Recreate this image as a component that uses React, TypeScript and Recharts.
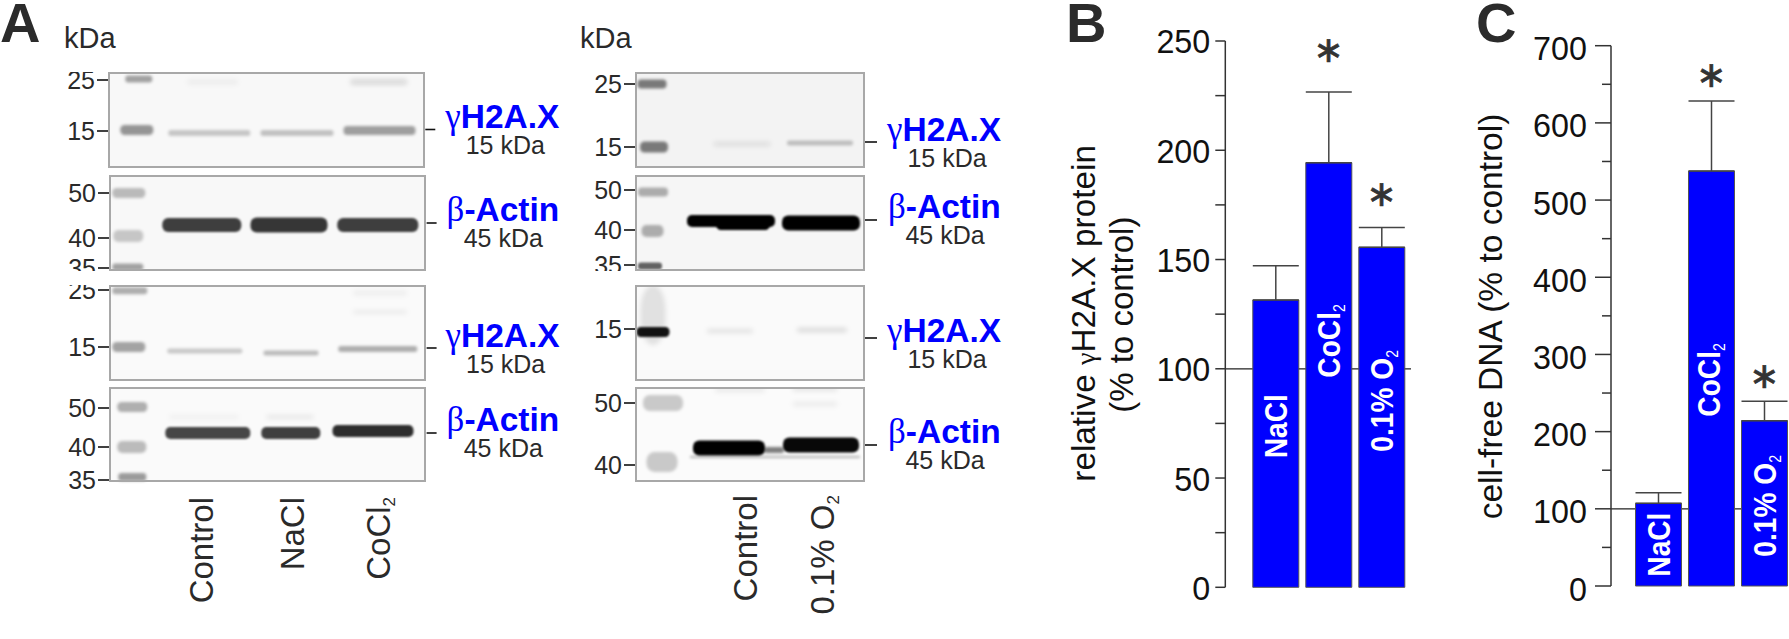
import {
  Bar,
  CartesianGrid,
  ComposedChart,
  ErrorBar,
  LabelList,
  Line,
  Scatter,
  ScatterChart,
  XAxis,
  YAxis,
} from "recharts";

const SANS = "'Liberation Sans', Arial, sans-serif";
const SERIF = "'Liberation Serif', serif";
const BLUE = "#0000ff";
const INK = "#2a2a2a";

// bar panels
const groups = ["NaCl", "CoCl2", "0.1% O2"];
const proteinMean = [131.5, 194.3, 155.6];
const proteinErr = [15.7, 32.4, 9];
const proteinStar = [null, 245.6, 179.5];
const proteinTicks = [0, 25, 50, 75, 100, 125, 150, 175, 200, 225, 250];
const dnaMean = [107.1, 537.6, 214.2];
const dnaErr = [13.8, 90.7, 25.1];
const dnaStar = [null, 660.7, 271.1];
const dnaTicks = [0, 50, 100, 150, 200, 250, 300, 350, 400, 450, 500, 550, 600, 650, 700];

// blot bands: [lane x, migration y, width, thickness, darkness]
type Band = [number, number, number, number, number];
const leftGammaTop: Band[] = [
  [30.8, 7, 27, 7, 0.35],
  [28.8, 58, 33, 10, 0.4],
  [104.8, 10, 51, 5, 0.05],
  [270.8, 10, 57, 6, 0.12],
  [101.3, 61, 82, 6, 0.2],
  [189, 61, 73, 6, 0.22],
  [271.5, 58.5, 72, 9, 0.36],
];
const leftActinTop: Band[] = [
  [19.8, 18, 33, 10, 0.25],
  [19.3, 61, 30, 12, 0.2],
  [18.8, 92, 31, 7, 0.35],
  [92.8, 50, 79, 14, 0.75],
  [180, 50, 77, 15, 0.78],
  [268.8, 50, 81, 14, 0.75],
];
const leftGammaLow: Band[] = [
  [20.8, 5.7, 35, 7, 0.3],
  [19.8, 62, 33, 10, 0.35],
  [271, 8, 54, 5, 0.05],
  [271, 27, 54, 3, 0.08],
  [95.8, 66, 75, 5, 0.2],
  [182, 68, 55, 5, 0.25],
  [268.8, 64, 79, 6, 0.3],
];
const leftActinLow: Band[] = [
  [23.3, 20, 30, 10, 0.3],
  [22.8, 60, 29, 12, 0.25],
  [23.3, 90, 28, 8, 0.38],
  [95, 30, 70, 3, 0.06],
  [181, 30, 47, 3, 0.1],
  [98.8, 46, 85, 12, 0.72],
  [181.8, 46, 59, 12, 0.75],
  [264, 44, 81, 12, 0.82],
];
const rightGammaTop: Band[] = [
  [17, 12, 29, 9, 0.5],
  [19, 75, 28, 11, 0.5],
  [107, 72, 57, 4, 0.1],
  [185, 71, 66, 5, 0.22],
];
const rightActinTop: Band[] = [
  [18, 17, 30, 9, 0.3],
  [17.5, 56, 22, 12, 0.3],
  [15, 91, 24, 7, 0.6],
  [96, 46, 88, 12, 1],
  [108, 50, 53, 10, 1],
  [186, 48, 78, 15, 1],
];
const rightGammaLow: Band[] = [
  [18, 30, 25, 60, 0.1],
  [18, 47, 33, 10, 0.92],
  [95, 46, 46, 4, 0.1],
  [187, 45, 50, 4, 0.14],
];
const rightActinLow: Band[] = [
  [28, 16, 40, 16, 0.2],
  [27, 75, 31, 20, 0.2],
  [105, 3, 50, 4, 0.08],
  [180, 2, 45, 4, 0.1],
  [180, 17, 45, 5, 0.06],
  [140, 70, 170, 2, 0.3],
  [139, 63, 20, 6, 0.5],
  [94, 61, 72, 15, 1],
  [186, 58, 76, 15, 0.97],
];

const leftLanes = [92.3, 183.3, 268.8];
const leftLaneNames = ["Control", "NaCl", "CoCl2"];
const rightLanes = [110, 187];
const rightLaneNames = ["Control", "0.1% O2"];

function withSub(name: string, size: number, dy: number) {
  if (!name.endsWith("2")) return name;
  return (
    <>
      {name.slice(0, -1)}
      <tspan fontSize={size} dy={dy} fontWeight={400}>
        2
      </tspan>
    </>
  );
}

function BandShape({ cx, cy, payload }: any) {
  const { w, h, d } = payload;
  const filter = d >= 0.6 ? "url(#blot-sharp)" : d >= 0.15 ? "url(#blot-soft)" : "url(#blot-faint)";
  return (
    <rect
      x={cx - w / 2}
      y={cy - h / 2}
      width={w}
      height={h}
      rx={h / 2.4}
      fill="#000"
      fillOpacity={d}
      filter={filter}
    />
  );
}

interface BlotProps {
  left: number;
  top: number;
  width: number;
  height?: number;
  bg: string;
  bands: Band[];
  ticks: number[];
  kda: string[];
  marker: number;
  protein: "gamma" | "actin";
  markerLen: number;
  nameX: number;
  massX: number;
  nameDy: number;
  lanes?: number[];
  laneNames?: string[];
  laneTop?: number;
}

function Blot(p: BlotProps) {
  const h = p.height ?? 96;
  const axisLeft = 48;
  const axisRight = 160;
  const laneH = p.lanes ? 140 : 0;
  const data = p.bands.map(([x, y, w, th, d]) => ({ x, y, w, h: th, d }));
  const mass = p.protein === "gamma" ? "15 kDa" : "45 kDa";

  const rightTick = ({ x, y }: any) => (
    <g>
      <line x1={x} x2={x + p.markerLen} y1={y} y2={y} stroke="#111" strokeWidth={1.6} />
      <text x={x + p.nameX} y={y + p.nameDy} fontSize={33.5} fontWeight={700} fill={BLUE} fontFamily={SANS}>
        <tspan fontFamily={SERIF} fontWeight={400} fontSize={35}>
          {p.protein === "gamma" ? "γ" : "β"}
        </tspan>
        {p.protein === "gamma" ? "H2A.X" : "-Actin"}
      </text>
      <text x={x + p.massX} y={y + p.nameDy + 26} fontSize={25} fill={INK} textAnchor="middle" fontFamily={SANS}>
        {mass}
      </text>
    </g>
  );

  const laneTick = ({ x, y, index }: any) => (
    <text
      transform={`translate(${x + 12}, ${y + (p.laneTop ?? 15)}) rotate(-90)`}
      fontSize={33}
      fill={INK}
      textAnchor="end"
      fontFamily={SANS}
    >
      {withSub((p.laneNames as string[])[index], 17, 5)}
    </text>
  );

  return (
    <div style={{ position: "absolute", left: p.left - axisLeft, top: p.top, width: axisLeft + p.width + axisRight, height: h + laneH }}>
      <div style={{ position: "absolute", left: axisLeft, top: 0, width: p.width, height: h, background: p.bg }} />
      <div style={{ position: "absolute", left: 0, top: 0 }}>
        <ScatterChart
          width={axisLeft + p.width + axisRight}
          height={h + laneH}
          margin={{ top: 0, right: 0, bottom: 0, left: 0 }}
        >
          <XAxis
            type="number"
            dataKey="x"
            domain={[0, p.width]}
            hide={!p.lanes}
            ticks={p.lanes}
            interval={0}
            height={laneH}
            axisLine={false}
            tickLine={false}
            tickSize={0}
            tickMargin={0}
            tick={laneTick}
          />
          <YAxis
            yAxisId="left"
            type="number"
            dataKey="y"
            domain={[0, h]}
            reversed
            width={axisLeft}
            ticks={p.ticks}
            interval={0}
            axisLine={false}
            tickSize={11}
            tickMargin={2}
            tickLine={{ stroke: "#111", strokeWidth: 1.6 }}
            tick={{ fontSize: 25, fill: INK, fontFamily: SANS }}
            tickFormatter={(_v: number, i: number) => p.kda[i]}
          />
          <YAxis
            yAxisId="right"
            orientation="right"
            type="number"
            dataKey="y"
            domain={[0, h]}
            reversed
            width={axisRight}
            ticks={[p.marker]}
            interval={0}
            axisLine={false}
            tickLine={false}
            tickSize={0}
            tickMargin={0}
            tick={rightTick}
          />
          <Scatter yAxisId="left" data={data} shape={BandShape} isAnimationActive={false} />
          <Scatter yAxisId="right" data={data} shape={() => <g />} isAnimationActive={false} />
        </ScatterChart>
      </div>
      <div
        style={{
          position: "absolute",
          left: axisLeft,
          top: 0,
          width: p.width,
          height: h,
          boxSizing: "border-box",
          border: "2px solid #a8a8a8",
        }}
      />
    </div>
  );
}

interface PanelProps {
  left: number;
  plotLeft: number;
  plotRight: number;
  plotTop: number;
  plotBottom: number;
  means: number[];
  errs: number[];
  stars: (number | null)[];
  ticks: number[];
  max: number;
  labelEvery: number;
  majorLen: number;
  minorLen: number;
  labelGap: number;
  labelDy: number;
  padLeft: number;
  padRight: number;
  labelStart: number[];
  labelShift: number[];
  title: React.ReactNode;
}

function BarPanel(p: PanelProps) {
  const height = p.plotBottom + 30;
  const axisWidth = p.plotLeft - p.left;
  const data = groups.map((name, i) => ({
    name,
    mean: p.means[i],
    err: [0, p.errs[i]],
    star: p.stars[i],
  }));

  const yTick = ({ x, y, payload }: any) => {
    const major = payload.value % p.labelEvery === 0;
    return (
      <g>
        <line x1={x} x2={x - (major ? p.majorLen : p.minorLen)} y1={y} y2={y} stroke="#333" strokeWidth={1.5} />
        {major && (
          <text
            transform={`translate(${x - p.labelGap}, ${y + p.labelDy}) scale(0.95, 1)`}
            fontSize={34}
            fill="#111"
            textAnchor="end"
            fontFamily={SANS}
          >
            {payload.value}
          </text>
        )}
      </g>
    );
  };

  const barLabel = ({ x, width, index }: any) => (
    <text
      transform={`translate(${x + width / 2 + p.labelShift[index]}, ${p.labelStart[index]}) rotate(-90) scale(0.88, 1)`}
      fontSize={32}
      fontWeight={700}
      fill="#fff"
      fontFamily={SANS}
    >
      {withSub(groups[index], 16, 5)}
    </text>
  );

  const starDot = ({ cx, cy, index, value }: any) =>
    value == null ? (
      <g key={index} />
    ) : (
      <text
        key={index}
        x={cx}
        y={cy + 11}
        fontSize={36}
        fill="#333"
        stroke="#333"
        strokeWidth={0.7}
        textAnchor="middle"
        fontFamily="'DejaVu Sans'"
      >
        ∗
      </text>
    );

  return (
    <div style={{ position: "absolute", left: p.left, top: 0 }}>
      <ComposedChart
        width={p.plotRight - p.left}
        height={height}
        data={data}
        margin={{ top: p.plotTop, right: 0, bottom: height - p.plotBottom, left: 0 }}
      >
        <CartesianGrid vertical={false} horizontalValues={[100]} stroke="#222" strokeWidth={1.3} />
        <XAxis dataKey="name" hide padding={{ left: p.padLeft, right: p.padRight }} />
        <YAxis
          domain={[0, p.max]}
          ticks={p.ticks}
          interval={0}
          width={axisWidth}
          axisLine={{ stroke: "#333", strokeWidth: 1.5 }}
          tickLine={false}
          tickSize={0}
          tickMargin={0}
          tick={yTick}
        />
        <Bar dataKey="mean" barSize={46} fill={BLUE} stroke="#555" strokeWidth={1} isAnimationActive={false}>
          <ErrorBar dataKey="err" width={23} stroke="#444" strokeWidth={1.5} isAnimationActive={false} />
          <LabelList dataKey="mean" content={barLabel} />
        </Bar>
        <Line dataKey="star" stroke="none" dot={starDot} activeDot={false} isAnimationActive={false} />
      </ComposedChart>
      <svg style={{ position: "absolute", left: 0, top: 0, overflow: "visible" }} width={1} height={1}>
        {p.title}
      </svg>
    </div>
  );
}

export default function App() {
  return (
    <div
      style={{
        position: "absolute",
        left: 0,
        top: 0,
        width: 1789,
        height: 639,
        overflow: "hidden",
        background: "#fff",
        fontFamily: SANS,
      }}
    >
      <svg width={0} height={0} style={{ position: "absolute" }}>
        <defs>
          <filter id="blot-sharp" x="-20%" y="-100%" width="140%" height="300%">
            <feGaussianBlur stdDeviation={0.9} />
          </filter>
          <filter id="blot-soft" x="-30%" y="-200%" width="160%" height="500%">
            <feGaussianBlur stdDeviation={1.8} />
          </filter>
          <filter id="blot-faint" x="-30%" y="-300%" width="160%" height="700%">
            <feGaussianBlur stdDeviation={2.6} />
          </filter>
        </defs>
      </svg>

      <svg width={1789} height={639} style={{ position: "absolute", left: 0, top: 0 }}>
        <g fontFamily={SANS} fontWeight={700} fontSize={56} fill="#2b2b2b">
          <text x={0} y={42}>A</text>
          <text x={1066} y={42}>B</text>
          <text x={1476} y={42}>C</text>
        </g>
        <text x={64} y={48} fontSize={29} fill={INK} fontFamily={SANS}>kDa</text>
        <text x={580} y={48} fontSize={29} fill={INK} fontFamily={SANS}>kDa</text>
      </svg>

      <Blot left={107.7} top={72} width={317.3} bg="#f8f8f8" bands={leftGammaTop} ticks={[8, 59]} kda={["25", "15"]} marker={57.5} protein="gamma" markerLen={10} nameX={20} massX={80} nameDy={-1.5} />
      <Blot left={108.7} top={175} width={317.6} bg="#f8f8f8" bands={leftActinTop} ticks={[18, 63, 93]} kda={["50", "40", "35"]} marker={48} protein="actin" markerLen={10} nameX={20} massX={76.7} nameDy={-2} />
      <Blot left={108.7} top={285} width={317.6} bg="#fafafa" bands={leftGammaLow} ticks={[5, 62]} kda={["25", "15"]} marker={63} protein="gamma" markerLen={10} nameX={19} massX={79} nameDy={-1} />
      <Blot left={108.7} top={387} width={317.6} height={95} bg="#fafafa" bands={leftActinLow} ticks={[21, 60, 93]} kda={["50", "40", "35"]} marker={46} protein="actin" markerLen={10} nameX={20} massX={76.7} nameDy={-2} lanes={leftLanes} laneNames={leftLaneNames} laneTop={15} />

      <Blot left={635} top={72} width={230} bg="#f3f3f3" bands={rightGammaTop} ticks={[12, 75]} kda={["25", "15"]} marker={70} protein="gamma" markerLen={12} nameX={22} massX={82} nameDy={-1} />
      <Blot left={635} top={175} width={230} bg="#f6f6f6" bands={rightActinTop} ticks={[15, 55, 90]} kda={["50", "40", "35"]} marker={45} protein="actin" markerLen={12} nameX={23} massX={80} nameDy={-2} />
      <Blot left={635} top={285} width={230} bg="#fafafa" bands={rightGammaLow} ticks={[44]} kda={["15"]} marker={53} protein="gamma" markerLen={12} nameX={22} massX={82} nameDy={4} />
      <Blot left={635} top={387} width={230} height={95} bg="#fbfbfb" bands={rightActinLow} ticks={[16, 78]} kda={["50", "40"]} marker={58} protein="actin" markerLen={12} nameX={23} massX={80} nameDy={-2} lanes={rightLanes} laneNames={rightLaneNames} laneTop={13} />

      <BarPanel
        left={1060}
        plotLeft={1225.3}
        plotRight={1411}
        plotTop={41}
        plotBottom={587.3}
        means={proteinMean}
        errs={proteinErr}
        stars={proteinStar}
        ticks={proteinTicks}
        max={250}
        labelEvery={50}
        majorLen={10}
        minorLen={10}
        labelGap={15}
        labelDy={12.5}
        padLeft={23.5}
        padRight={3.2}
        labelStart={[458.3, 377.7, 451.7]}
        labelShift={[11, 11, 11]}
        title={
          <g fontFamily={SANS} fill="#111" textAnchor="middle" fontSize={33}>
            <text transform="translate(35, 313.4) rotate(-90) scale(1.01, 1)">
              relative <tspan fontFamily={SERIF} fontSize={28}>γ</tspan>H2A.X protein
            </text>
            <text transform="translate(73, 314.7) rotate(-90)">(% to control)</text>
          </g>
        }
      />
      <BarPanel
        left={1480}
        plotLeft={1611}
        plotRight={1788}
        plotTop={45.7}
        plotBottom={586}
        means={dnaMean}
        errs={dnaErr}
        stars={dnaStar}
        ticks={dnaTicks}
        max={700}
        labelEvery={100}
        majorLen={16}
        minorLen={9}
        labelGap={24}
        labelDy={14.5}
        padLeft={20.5}
        padRight={-2.5}
        labelStart={[576.7, 416.7, 556.7]}
        labelShift={[11, 8.3, 11]}
        title={
          <text transform="translate(22, 316.5) rotate(-90) scale(1.015, 1)" fontSize={33} fill="#111" textAnchor="middle" fontFamily={SANS}>
            cell-free DNA (% to control)
          </text>
        }
      />
    </div>
  );
}
